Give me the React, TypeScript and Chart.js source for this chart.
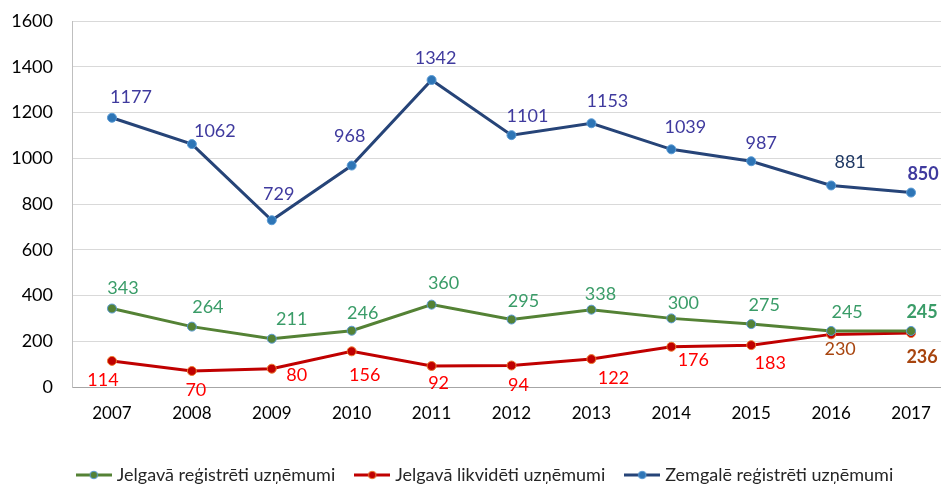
import React, { useEffect, useRef } from "react";
import { Chart, registerables } from "chart.js";

Chart.register(...registerables);

const years = ["2007", "2008", "2009", "2010", "2011", "2012", "2013", "2014", "2015", "2016", "2017"];
const seriesNames = ["Jelgavā reģistrēti uzņēmumi", "Jelgavā likvidēti uzņēmumi", "Zemgalē reģistrēti uzņēmumi"];
const jelgavaRegistered = [343, 264, 211, 246, 360, 295, 338, 300, 275, 245, 245];
const jelgavaLiquidated = [114, 70, 80, 156, 92, 94, 122, 176, 183, 230, 236];
const zemgaleRegistered = [1177, 1062, 729, 968, 1342, 1101, 1153, 1039, 987, 881, 850];
const yTicks = [0, 200, 400, 600, 800, 1000, 1200, 1400, 1600];

// label styling (offsets in px relative to the point)
const greenOffsets = [[11, -20], [16, -19], [20, -20], [11, -18], [12, -21], [12, -18], [9, -15], [12, -15], [13, -19], [16, -19], [11, -19]];
const redOffsets = [[-9, 19], [4, 19], [25, 6], [13, 24], [7, 17], [7, 20], [22, 19], [22, 13], [19, 18], [9, 15], [11, 24]];
const blueOffsets = [[19, -21], [23, -13], [7, -26], [-2, -29], [4, -22], [16, -19], [16, -22], [14, -22], [10, -18], [19, -23], [12, -18]];

const G = "#3a9c68", R = "#ff0000", BR = "#a8450f", B = "#3f3a9e", NV = "#1f3864";
const greenColors = [G, G, G, G, G, G, G, G, G, G, G];
const redColors = [R, R, R, R, R, R, R, R, R, BR, BR];
const blueColors = [B, B, B, B, B, B, B, B, B, NV, B];
const boldLast = [false, false, false, false, false, false, false, false, false, false, true];

const FONT = "Lato, 'Open Sans', sans-serif";
const LEGEND_SHIFT = 11;

function makeMarker(line: string, fill: string, border: string) {
  const c = document.createElement("canvas");
  c.width = 36;
  c.height = 10;
  const ctx = c.getContext("2d")!;
  ctx.strokeStyle = line;
  ctx.lineWidth = 3;
  ctx.beginPath();
  ctx.moveTo(0, 5);
  ctx.lineTo(36, 5);
  ctx.stroke();
  ctx.fillStyle = fill;
  ctx.strokeStyle = border;
  ctx.lineWidth = 1;
  ctx.beginPath();
  ctx.arc(18, 5, 3.8, 0, Math.PI * 2);
  ctx.fill();
  ctx.stroke();
  return c;
}

export default function App() {
  const ref = useRef<HTMLCanvasElement>(null);
  useEffect(() => {
    if (!ref.current) return;
    const markers = [
      makeMarker("#548235", "#548235", "#5b9bd5"),
      makeMarker("#c00000", "#c00000", "#ed7d31"),
      makeMarker("#264478", "#2e75b6", "#5b9bd5"),
    ];
    const offsets = [greenOffsets, redOffsets, blueOffsets];
    const colors = [greenColors, redColors, blueColors];

    const labelPlugin = {
      id: "valueLabels",
      afterLayout(chart: any) {
        if (chart.legend) {
          chart.legend.left += LEGEND_SHIFT;
          chart.legend.right += LEGEND_SHIFT;
        }
      },
      afterDatasetsDraw(chart: any) {
        const ctx = chart.ctx;
        ctx.save();
        ctx.textAlign = "center";
        ctx.textBaseline = "middle";
        chart.data.datasets.forEach((ds: any, i: number) => {
          const meta = chart.getDatasetMeta(i);
          meta.data.forEach((pt: any, j: number) => {
            const [dx, dy] = offsets[i][j];
            ctx.font = `${boldLast[j] ? "bold " : ""}18px ${FONT}`;
            ctx.fillStyle = colors[i][j];
            ctx.fillText(String(ds.data[j]), pt.x + dx, pt.y + dy);
          });
        });
        ctx.restore();
      },
    };

    const chart = new Chart(ref.current, {
      type: "line",
      data: {
        labels: years,
        datasets: [
          {
            label: seriesNames[0],
            data: jelgavaRegistered,
            borderColor: "#548235",
            backgroundColor: "#548235",
            pointBackgroundColor: "#548235",
            pointBorderColor: "#5b9bd5",
            borderWidth: 3,
            pointRadius: 4.5,
            pointBorderWidth: 1,
            tension: 0,
          },
          {
            label: seriesNames[1],
            data: jelgavaLiquidated,
            borderColor: "#c00000",
            backgroundColor: "#c00000",
            pointBackgroundColor: "#c00000",
            pointBorderColor: "#ed7d31",
            borderWidth: 3,
            pointRadius: 4.5,
            pointBorderWidth: 1,
            tension: 0,
          },
          {
            label: seriesNames[2],
            data: zemgaleRegistered,
            borderColor: "#264478",
            backgroundColor: "#264478",
            pointBackgroundColor: "#2e75b6",
            pointBorderColor: "#5b9bd5",
            borderWidth: 3,
            pointRadius: 4.5,
            pointBorderWidth: 1,
            tension: 0,
          },
        ],
      },
      options: {
        responsive: false,
        animation: false,
        layout: { padding: { top: 21, right: 23, left: 0, bottom: 10 } },
        plugins: {
          tooltip: { enabled: false },
          legend: {
            position: "bottom",
            labels: {
              usePointStyle: true,
              pointStyleWidth: 28,
              boxHeight: 10,
              padding: 23,
              color: "#262626",
              font: { family: FONT, size: 18 },
              generateLabels(ch: any) {
                const items = Chart.defaults.plugins.legend.labels.generateLabels(ch);
                return items.map((it: any, k: number) => ({ ...it, pointStyle: markers[k] }));
              },
            },
          },
        },
        scales: {
          x: {
            offset: true,
            grid: { display: false, drawTicks: false },
            border: { display: true, color: "#a6a6a6", width: 1 },
            ticks: { color: "#000", font: { family: FONT, size: 17 }, padding: 16, maxRotation: 0 },
            afterFit(scale: any) {
              scale.height = 56;
            },
          },
          y: {
            min: 0,
            max: 1600,
            afterBuildTicks(scale: any) {
              scale.ticks = yTicks.map((v) => ({ value: v }));
            },
            grid: { color: "#d9d9d9", drawTicks: true, tickLength: 10, tickColor: "rgba(0,0,0,0)" },
            border: { display: true, color: "#bfbfbf", width: 1 },
            ticks: {
              color: "#000",
              font: { family: FONT, size: 18 },
              padding: 9,
              callback: (v: any) => String(v),
            },
            afterFit(scale: any) {
              scale.width = 72;
            },
          },
        },
      },
      plugins: [labelPlugin],
    } as any);
    return () => chart.destroy();
  }, []);

  return (
    <div style={{ position: "fixed", left: 0, top: 0, width: 941, height: 484, overflow: "hidden", background: "#fff" }}>
      <canvas ref={ref} width={974} height={504} style={{ width: 974, height: 504, display: "block" }} />
    </div>
  );
}
